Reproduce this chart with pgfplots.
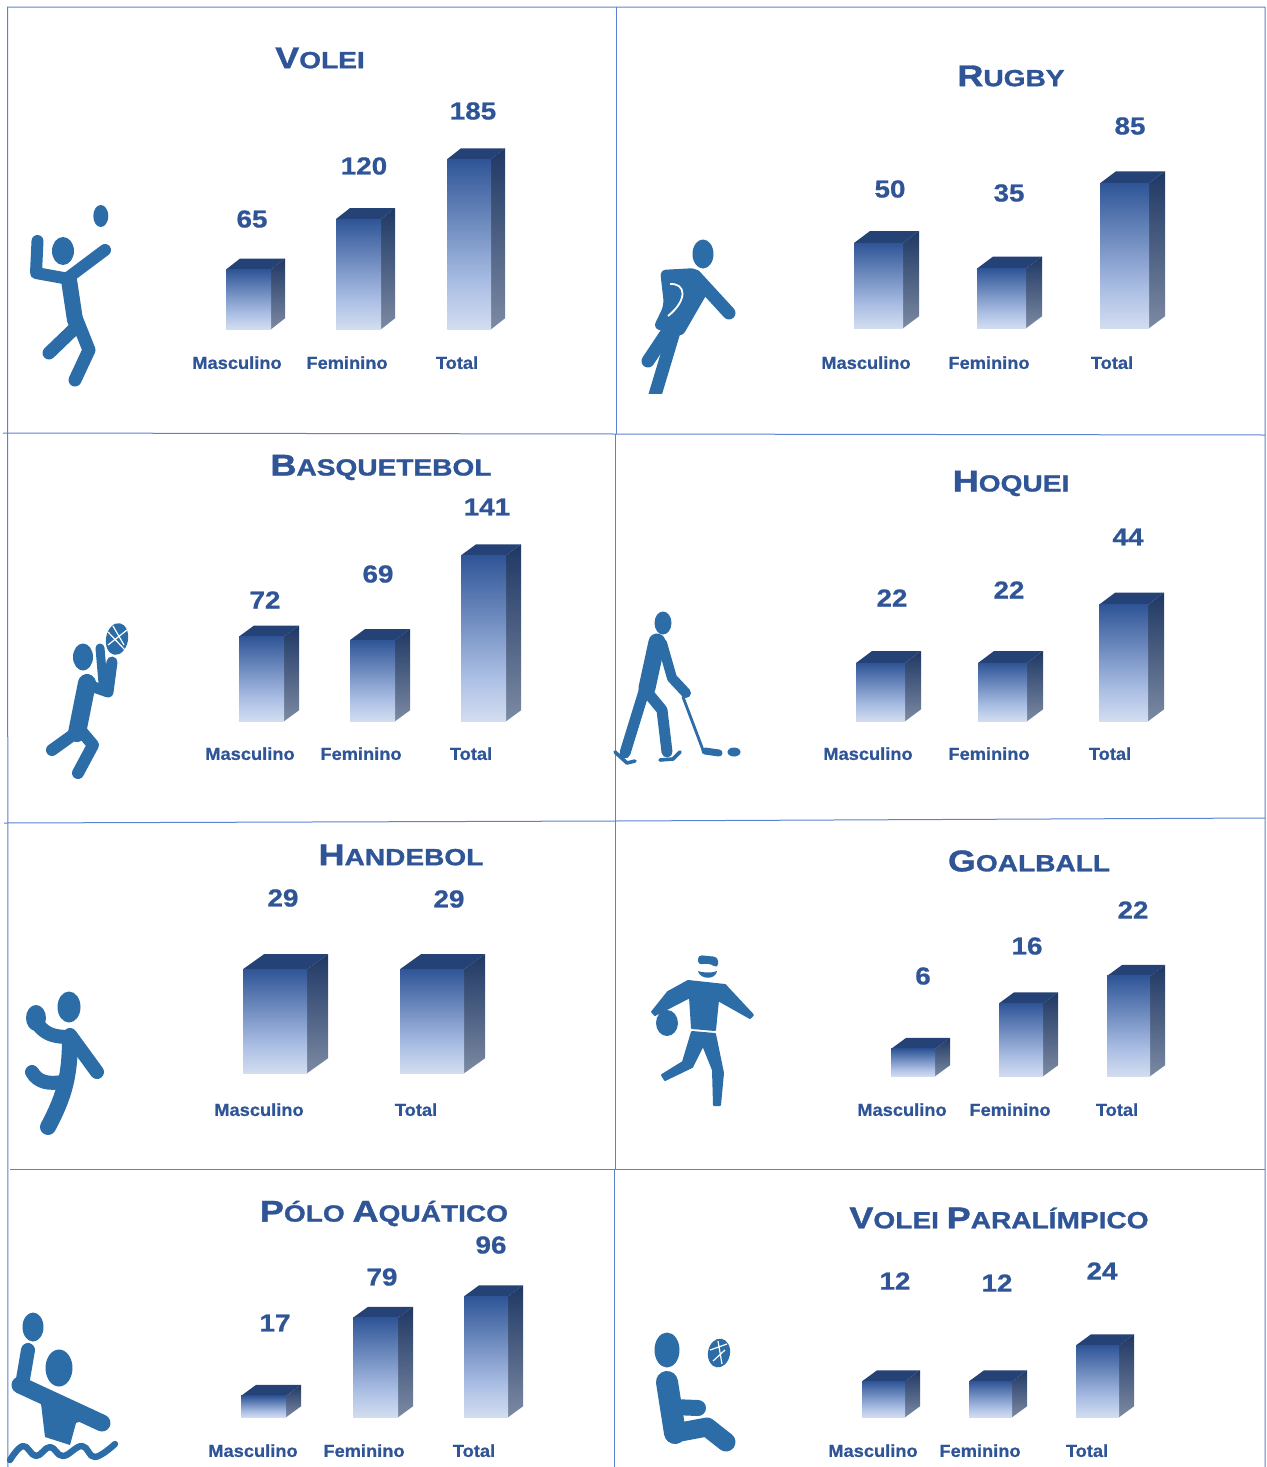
\documentclass[border=0pt]{standalone}
\usepackage{pgfplots}
\pgfplotsset{compat=1.18}
\usepackage{fontspec}
\setmainfont{Liberation Sans}
\newfontfamily\tfont{Liberation Sans}[FakeStretch=1.2,BoldFeatures={FakeBold=1.2}]
\newfontfamily\nfont{Liberation Sans}[FakeStretch=1.13,BoldFeatures={FakeBold=0.8}]
\newfontfamily\lfont{Liberation Sans}[FakeStretch=1.05,BoldFeatures={FakeBold=0.8}]
\definecolor{tblue}{HTML}{2F5597}
\definecolor{icon}{HTML}{2C6DA8}
\definecolor{grid}{HTML}{5B82D2}
\definecolor{topf}{HTML}{254277}
\definecolor{fa}{HTML}{D3DDF0}\definecolor{fb}{HTML}{A9BDE3}\definecolor{fc}{HTML}{2F5597}
\definecolor{sa}{HTML}{7C8AA3}\definecolor{sb}{HTML}{1F3864}
\pgfdeclareverticalshading{barfront}{100bp}{color(0bp)=(fa);color(25bp)=(fa);color(39bp)=(fb);color(75bp)=(fc);color(100bp)=(fc)}
\pgfdeclareverticalshading{barside}{100bp}{color(0bp)=(sa);color(25bp)=(sa);color(75bp)=(sb);color(100bp)=(sb)}
\pgfplotsset{panelstyle/.style={
  scale only axis, width=633pt, xmin=0, xmax=1266, clip=false,
  axis x line=bottom, axis y line=none, x axis line style={draw=none,-},
  major tick length=0pt, tick style={draw=none}, ytick=\empty,
  xticklabel style={font=\lfont\bfseries\fontsize{8.7}{9}\selectfont, text=tblue, anchor=north, inner sep=0pt, text height=6.5pt, text depth=0pt}
}}
% one 3-D bar: left x, right x, value (x in reference pixels, y in the value's units)
\newcommand\tbar[3]{%
  \pgfmathsetmacro\xc{#2+\dX}\pgfmathsetmacro\xd{#1+\dX}%
  \pgfmathsetmacro\du{\dY/\kk}\pgfmathsetmacro\vt{#3+\du}%
  \addplot[draw=none,fill=topf] coordinates {(#1,#3)(#2,#3)(\xc,\vt)(\xd,\vt)};
  \addplot[draw=none,shade,shading=barside] coordinates {(#2,0)(\xc,\du)(\xc,\vt)(#2,#3)};
  \addplot[draw=none,shade,shading=barfront] coordinates {(#1,0)(#2,0)(#2,#3)(#1,#3)};
}
% base y, label y, px per unit, depth x, depth y, tick positions, tick names, bars
\newcommand\panel[8]{%
  \pgfmathsetmacro\kk{#3}\def\dX{#4}\def\dY{#5}%
  \pgfmathsetmacro\ylow{-(#2-6.5-#1+0.7)/#3}%
  \pgfmathsetmacro\yhi{320/#3}%
  \pgfmathsetmacro\hh{(320+#2-6.5-#1+0.7)*0.5}%
  \pgfmathsetmacro\py{-0.5*(#2-6.5)}%
  \begin{axis}[panelstyle, at={(0pt,\py pt)}, anchor=south west, height=\hh pt, ymin=\ylow, ymax=\yhi, xtick={#6}, xticklabels={#7}]
  #8
  \end{axis}%
}
\newcommand\ttl[2]{{\tfont\bfseries\color{tblue}\fontsize{15}{15}\selectfont #1\fontsize{11.7}{12}\selectfont #2}}
\newcommand\num[3]{\node[font=\nfont\bfseries\fontsize{12.3}{13}\selectfont,text=tblue,inner sep=0pt] at (#1,#2+1) {#3};}
\begin{document}
\begin{tikzpicture}
\begin{scope}[x=.5pt,y=-.5pt]
\path[use as bounding box] (0,0) rectangle (1266,1467);
\begin{scope}[grid, line width=.5pt]
\draw (7,7)--(1265,7) (7.5,7)--(8,1467) (1265,7)--(1265,1467);
\draw (616,7)--(616,434) (615,434)--(615,820) (615,820)--(615,1169) (614,1169)--(614,1467);
\draw (3,433)--(616,434)--(1265,435);
\draw (4,823)--(615,821)--(1265,818);
\draw (10,1169)--(1265,1169);
\end{scope}
\tikzset{ic/.style={icon,line cap=round,line join=round}}
% VOLEI icon
\fill[icon] (100.8,216) ellipse (7.5 and 11) (63,251) ellipse (11 and 14);
\draw[ic,line width=6pt] (37.5,241)--(36,273)--(69,279) (105,250)--(69,277);
\draw[ic,line width=8pt] (69,280)--(75,320);
\draw[ic,line width=6.5pt] (75,315)--(89,350)--(75,380) (75,328)--(49,353);
% RUGBY icon
\fill[icon] (703,254) ellipse (10.5 and 14.5);
\fill[icon,rounded corners=3pt] (660,270)--(697,268)--(708,292)--(682,337)--(653,328)--(664,305)--cycle;
\draw[ic,line width=6.5pt] (695,276)--(729,313) (672,325)--(648,361);
\begin{scope}
\clip (630,230) rectangle (760,393);
\draw[ic,line width=6.5pt] (676,325)--(655,395);
\end{scope}
\draw[white,line width=.9pt] (670,284) .. controls (686,283) and (688,300) .. (668,316);
% BASQUETEBOL icon
\fill[icon,rotate around={-10:(117,639)}] (117,639) ellipse (11 and 16);
\draw[white,line width=.6pt] (108,632)--(125,650) (113,626)--(124,645) (108,645)--(127,630);
\fill[icon] (83,657) ellipse (10 and 13.5);
\draw[ic,line width=4.5pt] (100,648)--(103,683);
\draw[ic,line width=5.5pt] (112,662)--(108,692)--(88,685);
\draw[ic,line width=9pt] (87,683)--(77,733);
\draw[ic,line width=6pt] (77,732)--(52,750) (82,732)--(93,745)--(78,773);
% HOQUEI icon
\fill[icon] (663,623) ellipse (8.5 and 11.5);
\draw[ic,line width=8.5pt] (657,642)--(647,688);
\draw[ic,line width=5pt] (662,643)--(672,678)--(686,693);
\draw[ic,line width=5.5pt] (645,688)--(625,753) (648,693)--(662,710)--(667,752);
\draw[ic,line width=1.8pt] (615,752)--(627,763)--(635,761) (660,760)--(673,759)--(680,752);
\draw[ic,line width=1.4pt] (683,697)--(703,750);
\draw[ic,line width=3.5pt] (705,751)--(719,753);
\fill[icon] (734,752) ellipse (6.5 and 4.5);
% HANDEBOL icon
\fill[icon] (69,1007) ellipse (11.5 and 15.5) (36,1018) ellipse (10 and 13);
\draw[ic,line width=7pt] (37,1023) .. controls (45,1035) and (55,1037) .. (70,1037) (70,1035)--(97,1072);
\draw[ic,line width=8pt] (70,1037) .. controls (70,1075) and (65,1095) .. (48,1127);
\draw[ic,line width=7pt] (32,1072) .. controls (38,1083) and (50,1084) .. (62,1082);
% GOALBALL icon
\fill[icon,rounded corners=2pt] (698,955)--(718,957)--(718,968)--(708,963)--(698,965)--cycle;
\fill[icon] (698,971) .. controls (703,973) and (713,973) .. (717,971) .. controls (716,980) and (700,980) .. (698,971)--cycle;
\fill[icon] (667,1023) ellipse (11 and 13);
\draw[ic,fill=icon,line width=1pt] (652,1012)--(668,992)--(688,981)--(725,985)--(753,1015)--(750,1018)--(718,1000)--(715,1030)--(692,1028)--(690,997)--(655,1015)--cycle;
\draw[ic,fill=icon,line width=1pt] (692,1032)--(715,1034)--(723,1073)--(720,1105)--(714,1105)--(713,1070)--(703,1045)--(692,1067)--(665,1080)--(662,1075)--(683,1062)--cycle;
% POLO icon
\fill[icon] (33,1327) ellipse (10.5 and 14.5) (59,1368) ellipse (13.5 and 18.5);
\draw[ic,line width=7pt] (28,1350)--(22,1385);
\draw[ic,line width=8.5pt] (20,1385)--(102,1423);
\fill[icon] (40,1395)--(92,1417)--(76,1423)--(70,1445)--(45,1437)--cycle;
\draw[ic,line width=3.2pt] plot[smooth,tension=.7] coordinates {(10,1460)(23,1446)(36,1456)(50,1447)(63,1456)(82,1446)(95,1457)(115,1444)};
% VOLEI PARALIMPICO icon
\fill[icon] (667,1350) ellipse (12.5 and 17.5);
\fill[icon,rotate around={-10:(719,1353)}] (719,1353) ellipse (11 and 14.5);
\draw[white,line width=.6pt] (710,1350)--(727,1344) (713,1361)--(725,1350) (718,1341)--(722,1364);
\draw[ic,line width=11pt] (667,1382)--(675,1433);
\draw[ic,line width=9.5pt] (675,1433)--(707,1427)--(726,1442);
\draw[ic,line width=8pt] (673,1407)--(698,1408);
% titles and value labels
\node[inner sep=0pt] at (320,58) {\ttl{V}{OLEI}};
\node[inner sep=0pt] at (1011,76) {\ttl{R}{UGBY}};
\node[inner sep=0pt] at (381,467.5) {\ttl{B}{ASQUETEBOL}};
\node[inner sep=0pt] at (1011,483.5) {\ttl{H}{OQUEI}};
\node[inner sep=0pt] at (401,855) {\ttl{H}{ANDEBOL}};
\node[inner sep=0pt] at (1029,861) {\ttl{G}{OALBALL}};
\node[inner sep=0pt] at (384,1213.5) {\ttl{P}{ÓLO }\ttl{A}{QUÁTICO}};
\node[inner sep=0pt] at (999,1218) {\ttl{V}{OLEI }\ttl{P}{ARALÍMPICO}};
\num{252}{218}{65}\num{364}{165}{120}\num{473}{110}{185}
\num{890}{188}{50}\num{1009}{192}{35}\num{1130}{125}{85}
\num{265}{599}{72}\num{378}{573}{69}\num{487}{506}{141}
\num{892}{597}{22}\num{1009}{589}{22}\num{1128}{536}{44}
\num{283}{897}{29}\num{449}{898}{29}
\num{923}{975}{6}\num{1027}{945}{16}\num{1133}{909}{22}
\num{275}{1322}{17}\num{382}{1276}{79}\num{491}{1244}{96}
\num{895}{1280}{12}\num{997}{1282}{12}\num{1102}{1270}{24}
\end{scope}
\panel{330}{362}{0.919}{14}{11}{237,347,457}{Masculino,Feminino,Total}{\tbar{226}{271}{65}\tbar{336}{381}{120}\tbar{447}{491}{185}}
\panel{329}{362}{1.706}{16}{12}{866,989,1112}{Masculino,Feminino,Total}{\tbar{854}{903}{50}\tbar{977}{1026}{35}\tbar{1100}{1149}{85}}
\panel{722}{753}{1.177}{15}{11}{250,361,471}{Masculino,Feminino,Total}{\tbar{239}{284}{72}\tbar{350}{395}{69}\tbar{461}{506}{141}}
\panel{722}{753}{2.65}{16}{12}{868,989,1110}{Masculino,Feminino,Total}{\tbar{856}{905}{22}\tbar{978}{1027}{22}\tbar{1099}{1148}{44}}
\panel{1074}{1109}{3.59}{21}{15}{259,416}{Masculino,Total}{\tbar{243}{307}{29}\tbar{400}{464}{29}}
\panel{1077}{1109}{4.56}{15}{11}{902,1010,1117}{Masculino,Feminino,Total}{\tbar{891}{935}{6}\tbar{999}{1043}{16}\tbar{1107}{1150}{22}}
\panel{1418}{1450}{1.26}{15}{11}{253,364,474}{Masculino,Feminino,Total}{\tbar{241}{286}{17}\tbar{353}{398}{79}\tbar{464}{508}{96}}
\panel{1418}{1450}{3}{15}{11}{873,980,1087}{Masculino,Feminino,Total}{\tbar{862}{905}{12}\tbar{969}{1012}{12}\tbar{1076}{1119}{24}}
\end{tikzpicture}
\end{document}
